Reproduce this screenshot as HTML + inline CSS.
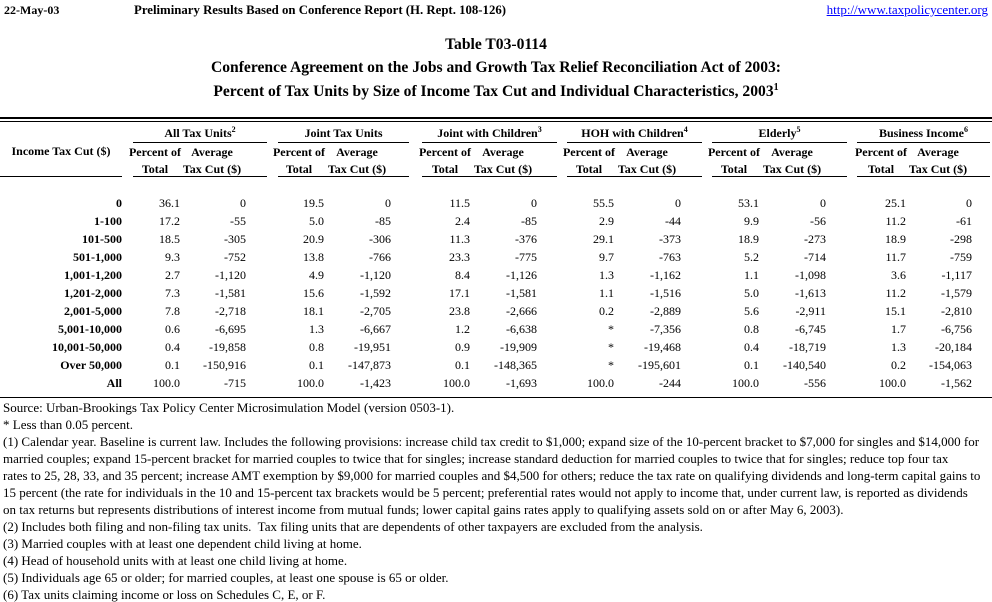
<!DOCTYPE html>
<html><head><meta charset="utf-8"><style>
*{margin:0;padding:0}
body{width:992px;height:602px;background:#fff;position:relative;overflow:hidden;font-family:"Liberation Serif",serif;color:#000}
.a{position:absolute;white-space:nowrap;line-height:14px}
.b{font-weight:bold}
.r{text-align:right}
.c{text-align:center}
.n{font-size:12px}
.h{position:absolute;height:1px;background:#000}
.t{font-size:15.6px;font-weight:bold;line-height:18px;left:0;width:992px;text-align:center}
.f{font-size:13px;left:3px}
sup{font-size:8px;line-height:0;vertical-align:5px}
.t sup{font-size:10px;vertical-align:6px}
</style></head><body>
<div class="a b n" style="left:4px;top:3px">22-May-03</div>
<div class="a b" style="left:134px;top:3px;font-size:12.8px">Preliminary Results Based on Conference Report (H. Rept. 108-126)</div>
<div class="a" style="right:4px;top:3px;font-size:13px;color:#00f;text-decoration:underline">http://www.taxpolicycenter.org</div>
<div class="a t" style="top:36px">Table T03-0114</div>
<div class="a t" style="top:59px">Conference Agreement on the Jobs and Growth Tax Relief Reconciliation Act of 2003:</div>
<div class="a t" style="top:83px">Percent of Tax Units by Size of Income Tax Cut and Individual Characteristics, 2003<sup>1</sup></div>
<div class="h" style="left:0;width:992px;top:117px;height:2px"></div>
<div class="h" style="left:0;width:992px;top:121px"></div>
<div class="a b n c" style="left:0;width:122px;top:144px">Income Tax Cut ($)</div>
<div class="h" style="left:0;width:122px;top:176px"></div>
<div class="a b n c" style="left:133px;width:134px;top:126px">All Tax Units<sup>2</sup></div>
<div class="a b n c" style="left:278px;width:131px;top:126px">Joint Tax Units</div>
<div class="a b n c" style="left:422px;width:135px;top:126px">Joint with Children<sup>3</sup></div>
<div class="a b n c" style="left:567px;width:135px;top:126px">HOH with Children<sup>4</sup></div>
<div class="a b n c" style="left:712px;width:135px;top:126px">Elderly<sup>5</sup></div>
<div class="a b n c" style="left:857px;width:133px;top:126px">Business Income<sup>6</sup></div>
<div class="h" style="left:133px;width:134px;top:142px"></div>
<div class="h" style="left:278px;width:131px;top:142px"></div>
<div class="h" style="left:422px;width:135px;top:142px"></div>
<div class="h" style="left:567px;width:135px;top:142px"></div>
<div class="h" style="left:712px;width:135px;top:142px"></div>
<div class="h" style="left:857px;width:133px;top:142px"></div>
<div class="h" style="left:133px;width:134px;top:176px"></div>
<div class="h" style="left:278px;width:131px;top:176px"></div>
<div class="h" style="left:422px;width:135px;top:176px"></div>
<div class="h" style="left:567px;width:135px;top:176px"></div>
<div class="h" style="left:712px;width:135px;top:176px"></div>
<div class="h" style="left:857px;width:133px;top:176px"></div>
<div id="hdr"></div>
<div id="data"></div>
<div class="h" style="left:0;width:992px;top:397px"></div>
<div class="a f" style="top:401px">Source: Urban-Brookings Tax Policy Center Microsimulation Model (version 0503-1).</div>
<div class="a f" style="top:418px">* Less than 0.05 percent.</div>
<div class="a f" style="top:435px">(1) Calendar year. Baseline is current law. Includes the following provisions: increase child tax credit to $1,000; expand size of the 10-percent bracket to $7,000 for singles and $14,000 for</div>
<div class="a f" style="top:452px">married couples; expand 15-percent bracket for married couples to twice that for singles; increase standard deduction for married couples to twice that for singles; reduce top four tax</div>
<div class="a f" style="top:469px">rates to 25, 28, 33, and 35 percent; increase AMT exemption by $9,000 for married couples and $4,500 for others; reduce the tax rate on qualifying dividends and long-term capital gains to</div>
<div class="a f" style="top:486px">15 percent (the rate for individuals in the 10 and 15-percent tax brackets would be 5 percent; preferential rates would not apply to income that, under current law, is reported as dividends</div>
<div class="a f" style="top:503px">on tax returns but represents distributions of interest income from mutual funds; lower capital gains rates apply to qualifying assets sold on or after May 6, 2003).</div>
<div class="a f" style="top:520px">(2) Includes both filing and non-filing tax units.&nbsp; Tax filing units that are dependents of other taxpayers are excluded from the analysis.</div>
<div class="a f" style="top:537px">(3) Married couples with at least one dependent child living at home.</div>
<div class="a f" style="top:554px">(4) Head of household units with at least one child living at home.</div>
<div class="a f" style="top:571px">(5) Individuals age 65 or older; for married couples, at least one spouse is 65 or older.</div>
<div class="a f" style="top:588px">(6) Tax units claiming income or loss on Schedules C, E, or F.</div>
<script>
var cols=[180,246,324,391,470,537,614,681,759,826,906,972];
var h='';
for(var i=0;i<12;i++){var x=cols[i];
 if(i%2==0){h+='<div class="a b n c" style="left:'+(x-60)+'px;width:70px;top:145px">Percent of</div><div class="a b n c" style="left:'+(x-60)+'px;width:70px;top:162px">Total</div>';}
 else{h+='<div class="a b n c" style="left:'+(x-72)+'px;width:76px;top:145px">Average</div><div class="a b n c" style="left:'+(x-72)+'px;width:76px;top:162px">Tax Cut ($)</div>';}
}
document.getElementById('hdr').innerHTML=h;
var rows=[
["0","36.1","0","19.5","0","11.5","0","55.5","0","53.1","0","25.1","0"],
["1-100","17.2","-55","5.0","-85","2.4","-85","2.9","-44","9.9","-56","11.2","-61"],
["101-500","18.5","-305","20.9","-306","11.3","-376","29.1","-373","18.9","-273","18.9","-298"],
["501-1,000","9.3","-752","13.8","-766","23.3","-775","9.7","-763","5.2","-714","11.7","-759"],
["1,001-1,200","2.7","-1,120","4.9","-1,120","8.4","-1,126","1.3","-1,162","1.1","-1,098","3.6","-1,117"],
["1,201-2,000","7.3","-1,581","15.6","-1,592","17.1","-1,581","1.1","-1,516","5.0","-1,613","11.2","-1,579"],
["2,001-5,000","7.8","-2,718","18.1","-2,705","23.8","-2,666","0.2","-2,889","5.6","-2,911","15.1","-2,810"],
["5,001-10,000","0.6","-6,695","1.3","-6,667","1.2","-6,638","*","-7,356","0.8","-6,745","1.7","-6,756"],
["10,001-50,000","0.4","-19,858","0.8","-19,951","0.9","-19,909","*","-19,468","0.4","-18,719","1.3","-20,184"],
["Over 50,000","0.1","-150,916","0.1","-147,873","0.1","-148,365","*","-195,601","0.1","-140,540","0.2","-154,063"],
["All","100.0","-715","100.0","-1,423","100.0","-1,693","100.0","-244","100.0","-556","100.0","-1,562"]];
var d='';
for(var r=0;r<rows.length;r++){var y=196+18*r;
 d+='<div class="a b n r" style="right:'+(992-122)+'px;top:'+y+'px">'+rows[r][0]+'</div>';
 for(var i=0;i<12;i++){d+='<div class="a n r" style="right:'+(992-cols[i])+'px;top:'+y+'px">'+rows[r][i+1]+'</div>';}
}
document.getElementById('data').innerHTML=d;
</script>
</body></html>
